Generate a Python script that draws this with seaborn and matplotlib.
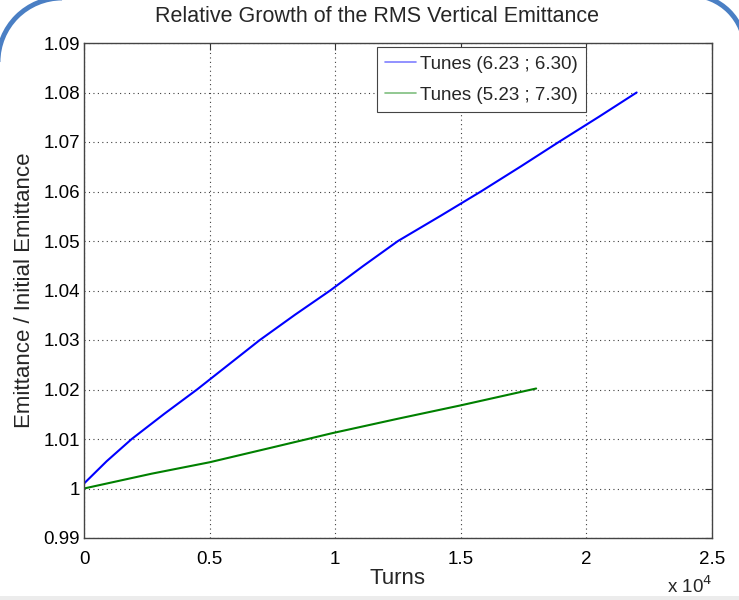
import matplotlib
matplotlib.use("Agg")
import matplotlib.pyplot as plt
from matplotlib.patches import Arc, Rectangle
from matplotlib.lines import Line2D
import numpy as np
import pandas as pd
import seaborn as sns

# Emittance growth vs. turn number for two working points
turns_a = [0, 900, 1900, 3200, 4500, 5700, 7000, 8400, 9800, 11100,
           12500, 14200, 15800, 17400, 18900, 20500, 22000]
emit_a = [1.001, 1.0055, 1.010, 1.0151, 1.020, 1.0248, 1.030, 1.0351, 1.040,
          1.0449, 1.050, 1.0551, 1.060, 1.0651, 1.070, 1.0751, 1.080]
turns_b = [0, 2700, 5000, 7500, 9900, 12500, 15000, 18000]
emit_b = [1.000, 1.003, 1.0053, 1.0083, 1.0112, 1.0141, 1.0168, 1.0202]

series_names = ["Tunes (6.23 ; 6.30)", "Tunes (5.23 ; 7.30)"]
series_colors = ["#0000ff", "#008000"]
x_ticks = [0, 5000, 10000, 15000, 20000, 25000]
x_tick_labels = ["0", "0.5", "1", "1.5", "2", "2.5"]
y_ticks = [0.99, 1.00, 1.01, 1.02, 1.03, 1.04, 1.05, 1.06, 1.07, 1.08, 1.09]
y_tick_labels = ["0.99", "1", "1.01", "1.02", "1.03", "1.04", "1.05",
                 "1.06", "1.07", "1.08", "1.09"]

df = pd.concat([
    pd.DataFrame({"Turns": turns_a, "Emittance": emit_a, "Case": series_names[0]}),
    pd.DataFrame({"Turns": turns_b, "Emittance": emit_b, "Case": series_names[1]}),
])

sns.set_style("white")
plt.rcParams["font.family"] = ["Liberation Sans", "DejaVu Sans"]

W, H = 739, 600
fig = plt.figure(figsize=(W / 100, H / 100), dpi=100)
ax = fig.add_axes([84 / W, 1 - 538 / H, (712 - 84) / W, (538 - 43) / H])

sns.lineplot(data=df, x="Turns", y="Emittance", hue="Case",
             palette=dict(zip(series_names, series_colors)),
             linewidth=1.5, legend=False, ax=ax, sort=False)

ax.set_xlim(0, 25000)
ax.set_ylim(0.99, 1.09)
ax.set_xticks(x_ticks)
ax.set_xticklabels(x_tick_labels)
ax.set_yticks(y_ticks)
ax.set_yticklabels(y_tick_labels)
ax.tick_params(direction="in", length=5, width=0.8, top=True, right=True,
               labelsize=13.5, colors="#333333", labelcolor="black")
ax.tick_params(axis="x", pad=9)
ax.tick_params(axis="y", pad=3)
ax.grid(True, linestyle=(0, (1, 3)), color="#404040", linewidth=0.8)
for s in ax.spines.values():
    s.set_color("#444444")
    s.set_linewidth(1.0)

ax.set_xlabel("Turns", fontsize=16, labelpad=0)
ax.set_ylabel("Emittance / Initial Emittance", fontsize=16, labelpad=6)
fig.text(377.5 / W, 1 - 17 / H, "Relative Growth of the RMS Vertical Emittance",
         ha="center", va="center", fontsize=15.5)
fig.text(690 / W, 1 - 586 / H, r"x 10$^{4}$", ha="center", va="center",
         fontsize=13.5)

handles = [Line2D([], [], color=c, lw=1.2, alpha=0.5) for c in series_colors]
leg = ax.legend(handles, series_names, loc="upper right",
                bbox_to_anchor=(586 / W, 1 - 47 / H),
                bbox_transform=fig.transFigure, fancybox=False,
                framealpha=1, edgecolor="#444444", fontsize=13.5,
                handlelength=1.65, handletextpad=0.2, labelspacing=0.75,
                borderpad=0.45, borderaxespad=0)
leg.get_frame().set_linewidth(0.8)

# slide frame corners and bottom strip
ov = fig.add_axes([0, 0, 1, 1], zorder=-1)
ov.set_xlim(0, W)
ov.set_ylim(0, H)
ov.axis("off")
ov.add_patch(Arc((62, H - 62), 128, 128, theta1=90, theta2=180,
                 color="#4a7fc4", lw=3.5))
ov.add_patch(Arc((690, H - 50), 110, 110, theta1=0, theta2=90,
                 color="#4a7fc4", lw=3.5))
ov.add_patch(Rectangle((0, 0), W, 4, color="#ececec", lw=0))

fig.savefig("out.png", dpi=100)
